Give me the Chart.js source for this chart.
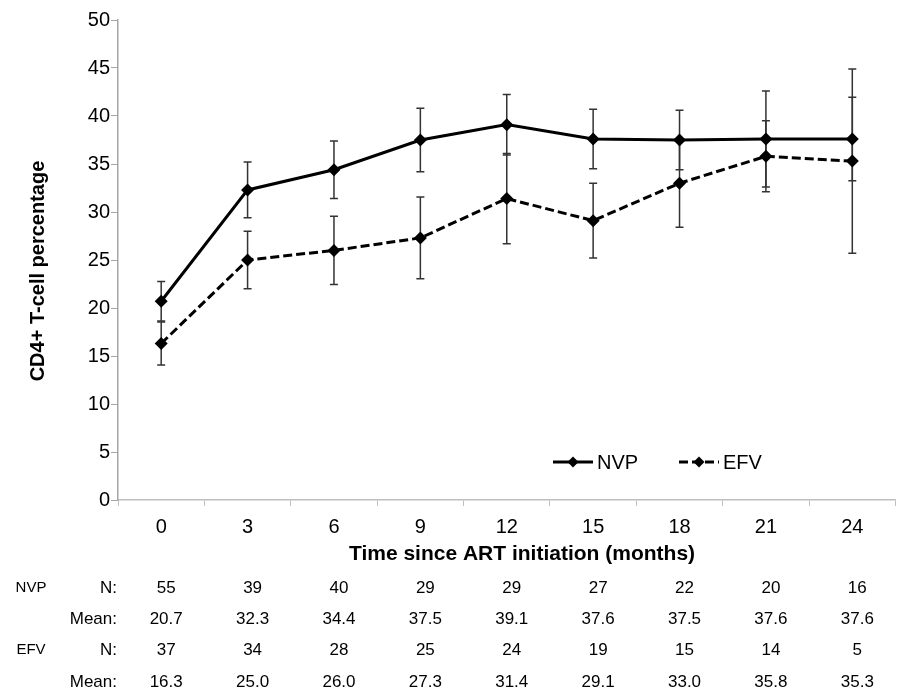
<!DOCTYPE html>
<html>
<head>
<meta charset="utf-8">
<title>CD4+ T-cell percentage</title>
<script src="https://cdn.jsdelivr.net/npm/chart.js@4.4.1/dist/chart.umd.min.js"></script>
<style>
      html, body { margin: 0; padding: 0; background: #fff; }
      #wrap { width: 902px; height: 698px; }
</style>
</head>
<body>
<div id="wrap"><canvas id="cd4Chart" width="902" height="698"></canvas></div>
<script>
// Months since ART initiation
let months = ["0", "3", "6", "9", "12", "15", "18", "21", "24"];

// Mean CD4+ % per regimen
let nvpMean = [20.7, 32.3, 34.4, 37.5, 39.1, 37.6, 37.5, 37.6, 37.6];
let efvMean = [16.3, 25.0, 26.0, 27.3, 31.4, 29.1, 33.0, 35.8, 35.3];

// Half width of the error bars
let nvpErr = [2.05, 2.9, 3.0, 3.3, 3.15, 3.1, 3.1, 5.0, 4.35];
let efvErr = [2.25, 3.0, 3.55, 4.25, 4.7, 3.9, 4.6, 3.7, 9.6];

// Patients per visit
let nvpN = [55, 39, 40, 29, 29, 27, 22, 20, 16];
let efvN = [37, 34, 28, 25, 24, 19, 15, 14, 5];

let yTicks = { min: 0, max: 50, step: 5 };

let xTitle = "Time since ART initiation (months)";
let yTitle = "CD4+ T-cell percentage";

let fontFamily = '"Liberation Sans", Arial, sans-serif';
Chart.defaults.font.family = fontFamily;
Chart.defaults.color = "#000";

// Error bars drawn under the markers
let errorBars = {
      id: "errorBars",
      beforeDatasetsDraw: (chart) => {
            let ctx = chart.ctx;
            let yScale = chart.scales.y;
            ctx.save();
            ctx.strokeStyle = "#333";
            ctx.lineWidth = 1.5;
            chart.data.datasets.forEach((ds, i) => {
                  let meta = chart.getDatasetMeta(i);
                  meta.data.forEach((pt, j) => {
                        let v = ds.data[j];
                        let e = ds.errors[j];
                        let top = yScale.getPixelForValue(v + e);
                        let bot = yScale.getPixelForValue(v - e);
                        ctx.beginPath();
                        ctx.moveTo(pt.x, top);
                        ctx.lineTo(pt.x, bot);
                        ctx.moveTo(pt.x - 4, top);
                        ctx.lineTo(pt.x + 4, top);
                        ctx.moveTo(pt.x - 4, bot);
                        ctx.lineTo(pt.x + 4, bot);
                        ctx.stroke();
                  });
            });
            ctx.restore();
      }
};

// Legend inside the plot, bottom right
let insideLegend = {
      id: "insideLegend",
      afterDatasetsDraw: (chart) => {
            let ctx = chart.ctx;
            let area = chart.chartArea;
            let y = area.bottom - 38;
            let starts = [553, 679];
            ctx.save();
            chart.data.datasets.forEach((ds, i) => {
                  let x0 = starts[i];
                  ctx.strokeStyle = "#000";
                  ctx.lineWidth = 3;
                  ctx.setLineDash(ds.borderDash || []);
                  ctx.beginPath();
                  ctx.moveTo(x0, y);
                  ctx.lineTo(x0 + 40, y);
                  ctx.stroke();
                  ctx.setLineDash([]);
                  ctx.fillStyle = "#000";
                  ctx.beginPath();
                  ctx.moveTo(x0 + 20, y - 5.5);
                  ctx.lineTo(x0 + 25.5, y);
                  ctx.lineTo(x0 + 20, y + 5.5);
                  ctx.lineTo(x0 + 14.5, y);
                  ctx.closePath();
                  ctx.fill();
                  ctx.font = "20px " + fontFamily;
                  ctx.textBaseline = "middle";
                  ctx.textAlign = "left";
                  ctx.fillText(ds.label, x0 + 44, y + 1);
            });
            ctx.restore();
      }
};

// Axis titles + N / Mean table under the x axis
let countTable = {
      id: "countTable",
      afterDraw: (chart) => {
            let ctx = chart.ctx;
            let xScale = chart.scales.x;
            ctx.save();
            ctx.fillStyle = "#000";
            ctx.textBaseline = "middle";

            ctx.font = "bold 21px " + fontFamily;
            ctx.textAlign = "center";
            ctx.fillText(xTitle, 522, 554);

            ctx.save();
            ctx.translate(38, 271);
            ctx.rotate(-Math.PI / 2);
            ctx.font = "bold 20px " + fontFamily;
            ctx.fillText(yTitle, 0, 0);
            ctx.restore();

            let rows = [
                  { group: "NVP", name: "N:", values: nvpN.map(String) },
                  { group: "", name: "Mean:", values: nvpMean.map((v) => v.toFixed(1)) },
                  { group: "EFV", name: "N:", values: efvN.map(String) },
                  { group: "", name: "Mean:", values: efvMean.map((v) => v.toFixed(1)) }
            ];
            let rowY = [588, 619, 650, 682];
            rows.forEach((row, r) => {
                  let y = rowY[r];
                  if (row.group) {
                        ctx.font = "15px " + fontFamily;
                        ctx.textAlign = "center";
                        ctx.fillText(row.group, 31, y);
                  }
                  ctx.font = "17px " + fontFamily;
                  ctx.textAlign = "right";
                  ctx.fillText(row.name, 117, y);
                  ctx.textAlign = "center";
                  row.values.forEach((txt, j) => {
                        ctx.fillText(txt, xScale.getPixelForTick(j) + 5, y);
                  });
            });
            ctx.restore();
      }
};

let ctx = document.getElementById("cd4Chart").getContext("2d");
new Chart(ctx, {
      type: "line",
      data: {
            labels: months,
            datasets: [
                  {
                        label: "NVP",
                        data: nvpMean,
                        errors: nvpErr,
                        borderColor: "#000",
                        backgroundColor: "#000",
                        borderWidth: 3,
                        pointStyle: "rectRot",
                        pointRadius: 6.5,
                        pointBorderWidth: 0,
                        tension: 0
                  },
                  {
                        label: "EFV",
                        data: efvMean,
                        errors: efvErr,
                        borderColor: "#000",
                        backgroundColor: "#000",
                        borderWidth: 3,
                        borderDash: [9, 4],
                        pointStyle: "rectRot",
                        pointRadius: 6.5,
                        pointBorderWidth: 0,
                        tension: 0
                  }
            ]
      },
      options: {
            responsive: false,
            animation: false,
            layout: { padding: { left: 0, right: 1, top: 20, bottom: 132 } },
            plugins: {
                  legend: { display: false },
                  tooltip: { enabled: false }
            },
            scales: {
                  x: {
                        offset: true,
                        grid: { drawOnChartArea: false, offset: true, tickLength: 6, color: "#bfbfbf" },
                        border: { color: "#bfbfbf", width: 1.5 },
                        ticks: { font: { size: 20 }, color: "#000", padding: 9, maxRotation: 0 },
                        afterFit: (scale) => { scale.height = 66; }
                  },
                  y: {
                        min: yTicks.min,
                        max: yTicks.max,
                        grid: { drawOnChartArea: false, tickLength: 7, color: "#a6a6a6" },
                        border: { color: "#a6a6a6", width: 1.5 },
                        ticks: { stepSize: yTicks.step, font: { size: 20 }, color: "#000", padding: 1 },
                        afterFit: (scale) => { scale.width = 118; }
                  }
            }
      },
      plugins: [errorBars, insideLegend, countTable]
});
</script>
</body>
</html>
